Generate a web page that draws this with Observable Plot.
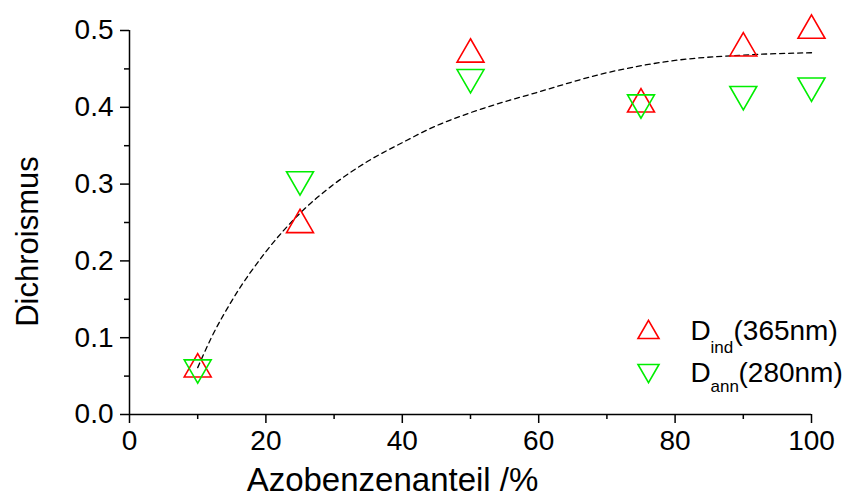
<!DOCTYPE html>
<html>
<head>
<meta charset="utf-8">
<script src="https://cdn.jsdelivr.net/npm/d3@7"></script>
<script src="https://cdn.jsdelivr.net/npm/@observablehq/plot@0.6"></script>
<style>
  html, body { margin: 0; padding: 0; background: #fff; }
  #chart svg { display: block; }
</style>
</head>
<body>
<div id="chart"></div>
<script>
// Data
const azoShare = [10, 25, 50, 75, 90, 100];
const dInd365 = [0.059, 0.247, 0.469, 0.404, 0.477, 0.500];
const dAnn280 = [0.061, 0.306, 0.439, 0.406, 0.417, 0.428];

// Dashed fit curve
const fitX = [10, 12, 15, 20, 25, 30, 35, 40, 45, 50, 60, 70, 80, 90, 100];
const fitY = [0.061, 0.100, 0.148, 0.212, 0.262, 0.300, 0.330, 0.354, 0.376, 0.393, 0.420, 0.445, 0.461, 0.468, 0.471];

// Tick labels
const xMajor = [0, 20, 40, 60, 80, 100];
const xMinor = [10, 30, 50, 70, 90];
const yMajor = [0, 0.1, 0.2, 0.3, 0.4, 0.5];
const yMinor = [0.05, 0.15, 0.25, 0.35, 0.45];

const xTitle = "Azobenzenanteil /%";
const yTitle = "Dichroismus";
const legendItems = [
  {main: "D", sub: "ind", tail: "(365nm)", color: "#ff0000", down: false},
  {main: "D", sub: "ann", tail: "(280nm)", color: "#00ee00", down: true}
];

const indData = azoShare.map((x, i) => ({x, y: dInd365[i]}));
const annData = azoShare.map((x, i) => ({x, y: dAnn280[i]}));
const fitData = fitX.map((x, i) => ({x, y: fitY[i]}));

const W = 853, H = 497;
const mL = 129, mR = 42, mT = 30, mB = 83;
const font = "'Liberation Sans', Arial, Helvetica, sans-serif";

// legend marks positioned relative to the top-left of the frame
const legendMarks = [];
legendItems.forEach((d, i) => {
  const cy = i === 0 ? 332 : 370;
  const base = i === 0 ? 339 : 381;
  const subBase = i === 0 ? 352 : 391;
  const subX = 710;
  const tailX = i === 0 ? 733 : 738;
  legendMarks.push(
    Plot.dot([d], {frameAnchor: "top-left", dx: 648 - mL, dy: cy - mT,
      symbol: "triangle", r: 7.8, stroke: d.color, strokeWidth: 1.6, fill: "none",
      rotate: d.down ? 180 : 0}),
    Plot.text([d], {frameAnchor: "top-left", dx: 690 - mL, dy: base - mT, text: "main",
      textAnchor: "start", lineAnchor: "bottom", fontSize: 28, fill: "#000"}),
    Plot.text([d], {frameAnchor: "top-left", dx: subX - mL, dy: subBase - mT, text: "sub",
      textAnchor: "start", lineAnchor: "bottom", fontSize: 17, fill: "#000"}),
    Plot.text([d], {frameAnchor: "top-left", dx: tailX - mL, dy: base - mT, text: "tail",
      textAnchor: "start", lineAnchor: "bottom", fontSize: 28, fill: "#000"})
  );
});

const chart = Plot.plot({
  width: W,
  height: H,
  marginLeft: mL,
  marginRight: mR,
  marginTop: mT,
  marginBottom: mB,
  style: {fontFamily: font, fontSize: "28px", color: "#000", background: "#fff", overflow: "visible"},
  x: {domain: [0, 100], label: null},
  y: {domain: [0, 0.5], label: null},
  marks: [
    Plot.axisX({ticks: xMajor, tickSize: 9, tickPadding: 7, tickFormat: d => String(d), fontSize: 28, label: null, strokeWidth: 1.5}),
    Plot.axisX({ticks: xMinor, tickSize: 5, tickFormat: () => "", label: null, strokeWidth: 1.5}),
    Plot.axisY({ticks: yMajor, tickSize: 9, tickPadding: 7, tickFormat: d3.format(".1f"), fontSize: 28, label: null, strokeWidth: 1.5}),
    Plot.axisY({ticks: yMinor, tickSize: 5, tickFormat: () => "", label: null, strokeWidth: 1.5}),
    Plot.ruleY([0], {stroke: "#000", strokeWidth: 1.5}),
    Plot.ruleX([0], {stroke: "#000", strokeWidth: 1.5}),
    Plot.line(fitData, {x: "x", y: "y", stroke: "#000", strokeWidth: 1.3, strokeDasharray: "5,4", curve: "monotone-x"}),
    Plot.dot(indData, {x: "x", y: "y", symbol: "triangle", r: 10, stroke: "#ff0000", strokeWidth: 1.6, fill: "none"}),
    Plot.dot(annData, {x: "x", y: "y", symbol: "triangle", r: 10, stroke: "#00ee00", strokeWidth: 1.6, fill: "none", rotate: 180}),
    Plot.text([xTitle], {frameAnchor: "bottom", dx: 392 - (mL + (W - mL - mR) / 2), dy: 490 - (H - mB),
      text: d => d, textAnchor: "middle", lineAnchor: "bottom", fontSize: 33, fill: "#000"}),
    Plot.text([yTitle], {frameAnchor: "left", dx: 37 - mL, dy: 241 - (mT + (H - mT - mB) / 2),
      text: d => d, rotate: -90, textAnchor: "middle", lineAnchor: "bottom", fontSize: 31, fill: "#000"}),
    ...legendMarks
  ]
});

document.getElementById("chart").appendChild(chart);
</script>
</body>
</html>
